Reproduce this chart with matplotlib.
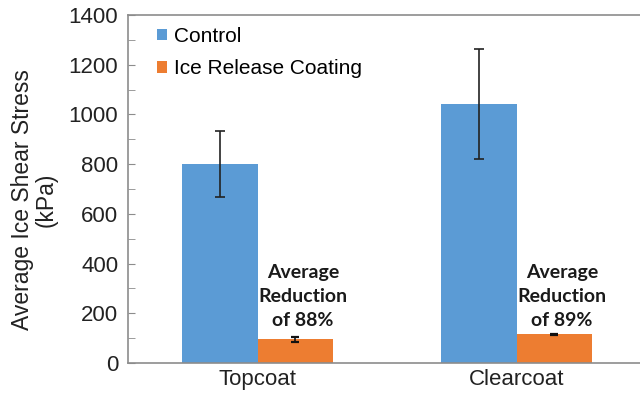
import matplotlib
matplotlib.use("Agg")
import matplotlib.pyplot as plt
import numpy as np
from matplotlib.ticker import MultipleLocator

categories = ["Topcoat", "Clearcoat"]
series_names = ["Control", "Ice Release Coating"]
control_vals = [800, 1042]
control_err = [133, 222]
coating_vals = [95, 115]
coating_err = [9, 3]
reductions = ["88%", "89%"]

blue = "#5b9bd5"
orange = "#ed7d31"
spine_gray = "#8c8c8c"
text_col = "#222222"

plt.rcParams["font.family"] = ["Liberation Sans", "DejaVu Sans"]

fig = plt.figure(figsize=(6.4, 3.95), dpi=100)
ax = fig.add_axes([128 / 640, 1 - 363 / 395, 518 / 640, 348 / 395])

x = np.arange(len(categories)) + 0.5
w = 0.29
ax.bar(x - w / 2, control_vals, w, color=blue, label=series_names[0],
       yerr=control_err, error_kw=dict(ecolor="#222222", elinewidth=1.2,
                                        capsize=3.3, capthick=1.2))
ax.bar(x + w / 2, coating_vals, w, color=orange, label=series_names[1],
       yerr=coating_err, error_kw=dict(ecolor="#111111", elinewidth=1.2,
                                       capsize=3.0, capthick=1.6))

# reduction callouts above the coating bars
for xi, r in zip(x, reductions):
    ax.text(xi + w / 2 + 0.03, 148, f"Average\nReduction\nof {r}",
            ha="center", va="baseline", fontsize=14, fontweight="bold",
            family=["Lato", "DejaVu Sans"], color="#1a1a1a", linespacing=1.5)

ax.set_xlim(0, 2)
ax.set_ylim(0, 1400)
ax.yaxis.set_major_locator(MultipleLocator(200))
ax.yaxis.set_minor_locator(MultipleLocator(100))
ax.set_xticks(x)
ax.set_xticklabels(categories, fontsize=16, color=text_col)
ax.tick_params(axis="x", length=0, pad=4)
ax.tick_params(axis="y", which="both", direction="in", length=5,
               color=spine_gray, labelsize=16, labelcolor=text_col, pad=7)
for s in ["left", "bottom", "top", "right"]:
    ax.spines[s].set_color(spine_gray)
    ax.spines[s].set_linewidth(1.2)

ax.set_ylabel("Average Ice Shear Stress\n(kPa)", fontsize=16.5, color=text_col,
              linespacing=1.05)
ax.yaxis.set_label_coords(-0.135, 0.47)

ax.legend(loc="upper left", bbox_to_anchor=(0.04, 0.99), frameon=False,
          borderaxespad=0, fontsize=15, handlelength=0.48, handleheight=0.48,
          handletextpad=0.35, labelspacing=0.65)

fig.savefig("out.png", dpi=100)
